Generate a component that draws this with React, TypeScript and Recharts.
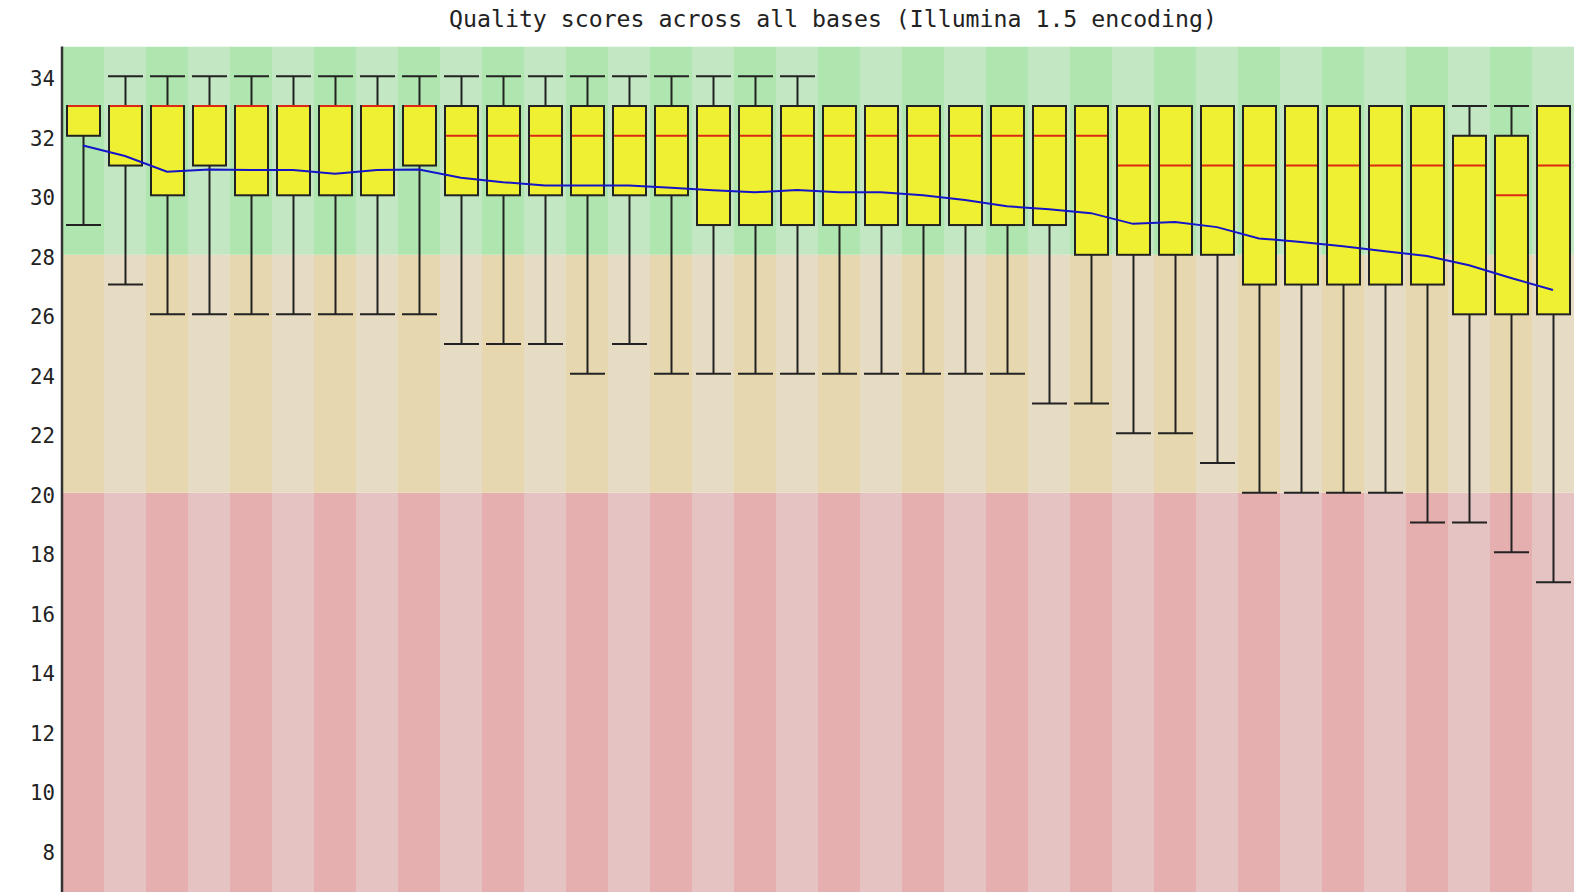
import React from 'react';
import { ComposedChart, Bar, Line, XAxis, YAxis, Cell } from 'recharts';

const positions = ['1','2','3','4','5','6','7','8','9','10','11','12','13','14','15','16','17','18','19','20','21','22','23','24','25','26','27','28','29','30','31','32','33','34','35','36'];
const whiskerLow = [29,27,26,26,26,26,26,26,26,25,25,25,24,25,24,24,24,24,24,24,24,24,24,23,23,22,22,21,20,20,20,20,19,19,18,17];
const lowerQuartile = [32,31,30,31,30,30,30,30,31,30,30,30,30,30,30,29,29,29,29,29,29,29,29,29,28,28,28,28,27,27,27,27,27,26,26,26];
const medians = [33,33,33,33,33,33,33,33,33,32,32,32,32,32,32,32,32,32,32,32,32,32,32,32,32,31,31,31,31,31,31,31,31,31,30,31];
const upperQuartile = [33,33,33,33,33,33,33,33,33,33,33,33,33,33,33,33,33,33,33,33,33,33,33,33,33,33,33,33,33,33,33,33,33,32,32,33];
const whiskerHigh = [33,34,34,34,34,34,34,34,34,34,34,34,34,34,34,34,34,34,33,33,33,33,33,33,33,33,33,33,33,33,33,33,33,33,33,33];
const means = [31.67,31.32,30.79,30.87,30.85,30.85,30.72,30.85,30.87,30.59,30.44,30.33,30.33,30.33,30.25,30.17,30.10,30.18,30.10,30.10,30.00,29.84,29.63,29.53,29.40,29.04,29.10,28.93,28.55,28.43,28.29,28.12,27.96,27.65,27.22,26.82];
const yTicks = [8,10,12,14,16,18,20,22,24,26,28,30,32,34];
const zoneBad = 20;
const zonePoor = 8;
const zoneGood = 7;

const title = 'Quality scores across all bases (Illumina 1.5 encoding)';

const data = positions.map((p, i) => ({
  pos: p,
  low: whiskerLow[i],
  q1: lowerQuartile[i],
  median: medians[i],
  q3: upperQuartile[i],
  high: whiskerHigh[i],
  range: [whiskerLow[i], whiskerHigh[i]],
  mean: means[i],
  bad: zoneBad,
  poor: zonePoor,
  good: zoneGood,
}));

const goodColors = ['rgb(175,230,175)', 'rgb(195,230,195)'];
const poorColors = ['rgb(230,215,175)', 'rgb(230,220,195)'];
const badColors = ['rgb(230,175,175)', 'rgb(230,195,195)'];

const INK = '#222';

const BoxShape = (props: any) => {
  const { x, y, width, height, payload } = props;
  if (!payload) return null;
  const lo = payload.low;
  const hi = payload.high;
  const k = height / (hi - lo);
  const yOf = (v: number) => y + (hi - v) * k;
  const cx = x + width / 2;
  return (
    <g>
      <line x1={cx} x2={cx} y1={yOf(hi)} y2={yOf(payload.q3)} stroke={INK} strokeWidth={2} />
      <line x1={cx} x2={cx} y1={yOf(payload.q1)} y2={yOf(lo)} stroke={INK} strokeWidth={2} />
      <line x1={x - 1} x2={x + width + 1} y1={yOf(hi)} y2={yOf(hi)} stroke={INK} strokeWidth={2} />
      <line x1={x - 1} x2={x + width + 1} y1={yOf(lo)} y2={yOf(lo)} stroke={INK} strokeWidth={2} />
      <rect x={x} y={yOf(payload.q3)} width={width} height={yOf(payload.q1) - yOf(payload.q3)} fill="rgb(240,240,50)" stroke={INK} strokeWidth={2} />
      <line x1={x + 1} x2={x + width - 1} y1={yOf(payload.median)} y2={yOf(payload.median)} stroke="rgb(220,40,20)" strokeWidth={2} />
    </g>
  );
};

const YTick = (props: any) => {
  const { x, y, payload } = props;
  return (
    <text x={x + 1} y={y + 10} textAnchor="end" fontFamily="'DejaVu Sans Mono', monospace" fontSize={20.7} fill="#222">
      {payload.value}
    </text>
  );
};

export default function App() {
  return (
    <div style={{ position: 'fixed', left: 0, top: 0, width: 1590, height: 892, overflow: 'hidden', background: '#fff' }}>
      <svg width={1590} height={46} style={{ position: 'absolute', left: 0, top: 0 }}>
        <text x={833} y={27} textAnchor="middle" fontFamily="'DejaVu Sans Mono', monospace" fontSize={23.2} fill="#222">
          {title}
        </text>
      </svg>
      <div style={{ position: 'absolute', left: 0, top: 0 }}>
        <ComposedChart
          width={1590}
          height={1100}
          data={data}
          margin={{ top: 46.5, right: 16, left: 0, bottom: 12 }}
          barCategoryGap={0}
          barGap={0}
        >
          <XAxis xAxisId="bg" dataKey="pos" hide />
          <XAxis xAxisId="box" dataKey="pos" hide />
          <YAxis
            domain={[0, 35]}
            ticks={yTicks}
            interval={0}
            allowDataOverflow
            width={62}
            tickLine={false}
            axisLine={{ stroke: '#333', strokeWidth: 2.5 }}
            tick={<YTick />}
          />
          <Bar xAxisId="bg" dataKey="bad" stackId="bg" isAnimationActive={false}>
            {data.map((_, i) => <Cell key={`b${i}`} fill={badColors[i % 2]} />)}
          </Bar>
          <Bar xAxisId="bg" dataKey="poor" stackId="bg" isAnimationActive={false}>
            {data.map((_, i) => <Cell key={`p${i}`} fill={poorColors[i % 2]} />)}
          </Bar>
          <Bar xAxisId="bg" dataKey="good" stackId="bg" isAnimationActive={false}>
            {data.map((_, i) => <Cell key={`g${i}`} fill={goodColors[i % 2]} />)}
          </Bar>
          <Bar xAxisId="box" dataKey="range" barSize={33} isAnimationActive={false} shape={<BoxShape />} />
          <Line xAxisId="box" dataKey="mean" type="linear" stroke="rgb(20,20,200)" strokeWidth={2} dot={false} isAnimationActive={false} />
        </ComposedChart>
      </div>
    </div>
  );
}
